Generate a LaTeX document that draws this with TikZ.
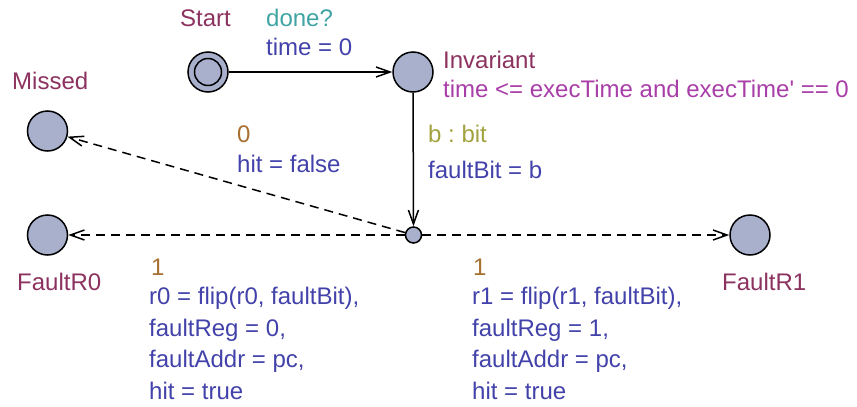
\documentclass[tikz,border=0pt]{standalone}
\usepackage{fontspec}
\setmainfont{Liberation Sans}
\usetikzlibrary{arrows.meta}
\frenchspacing

\definecolor{locname}{RGB}{140,50,95}
\definecolor{syncclr}{RGB}{64,164,164}
\definecolor{assignclr}{RGB}{66,66,170}
\definecolor{invclr}{RGB}{168,62,168}
\definecolor{selectclr}{RGB}{162,162,64}
\definecolor{probclr}{RGB}{168,112,48}
\definecolor{statefill}{RGB}{168,176,204}

\begin{document}
\begin{tikzpicture}[x=1pt,y=-1pt,
  loc/.style={circle, draw=black, line width=1.5pt, fill=statefill,
    minimum size=40pt, inner sep=0pt},
  branchpt/.style={loc, minimum size=16pt},
  edgearrow/.style={line width=1.5pt, -{Straight Barb[length=14pt,width=10pt]}},
  probedge/.style={edgearrow, dash pattern=on 9pt off 6pt},
  lbltext/.style={anchor=base west, inner sep=0pt,
    font=\fontsize{24}{29}\selectfont},
  locnm/.style={lbltext, text=locname},
  synctext/.style={lbltext, text=syncclr},
  assigntext/.style={lbltext, text=assignclr},
  invtext/.style={lbltext, text=invclr},
  seltext/.style={lbltext, text=selectclr},
  probtext/.style={lbltext, text=probclr}]
\useasboundingbox (0,0) rectangle (857,407);

% locations
\node[loc] (start) at (208,72) {};
\draw[line width=1.5pt] (start.center) circle (13.5pt);
\node[loc] (invariant) at (413,72) {};
\node[loc] (missed) at (47.5,131) {};
\node[loc] (faultr0) at (47.5,235) {};
\node[loc] (faultr1) at (750,235) {};
\node[branchpt] (branch) at (413.5,235) {};

% location names and invariant
\node[locnm] (startname) at (180,26) {Start};
\node[locnm] (invname) at (443,68) {Invariant};
\node[invtext] (invlabel) at (443,97) {time <= execTime and execTime\textquotesingle{} == 0};
\node[locnm] (missedname) at (12,89) {Missed};
\node[locnm] (r0name) at (17,290) {FaultR0};
\node[locnm] (r1name) at (722,290) {FaultR1};

% transitions
\draw[edgearrow] (start) -- (invariant);
\draw[edgearrow] (invariant) -- (branch);
\draw[probedge] (branch) -- (missed);
\draw[probedge] (branch) -- (faultr0);
\draw[probedge] (branch) -- (faultr1);

% transition labels
\node[synctext] (sync1) at (266,26) {done?};
\node[assigntext] (upd1) at (266,55) {time = 0};

\node[seltext] (sel1) at (428,142) {b : bit};
\node[assigntext] (upd2) at (428,178) {faultBit = b};

\node[probtext] (w0) at (237,142) {0};
\node[assigntext] (upd3) at (237,172) {hit = false};

\node[probtext] (w1a) at (151,275) {1};
\node[assigntext] (r0a) at (149,304) {r0 = flip(r0, faultBit),};
\node[assigntext] (r0b) at (149,336) {faultReg = 0,};
\node[assigntext] (r0c) at (149,367) {faultAddr = pc,};
\node[assigntext] (r0d) at (149,399) {hit = true};

\node[probtext] (w1b) at (473,275) {1};
\node[assigntext] (r1a) at (472,304) {r1 = flip(r1, faultBit),};
\node[assigntext] (r1b) at (472,336) {faultReg = 1,};
\node[assigntext] (r1c) at (472,367) {faultAddr = pc,};
\node[assigntext] (r1d) at (472,399) {hit = true};
\end{tikzpicture}
\end{document}
